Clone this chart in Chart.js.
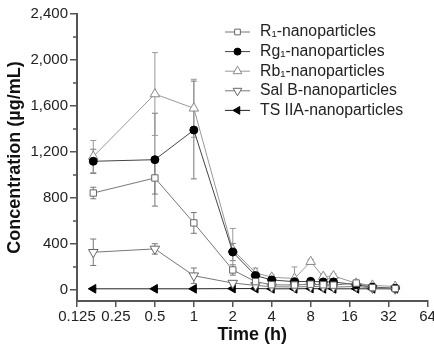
<!DOCTYPE html>
<html>
<head>
<meta charset="utf-8">
<script src="https://cdn.jsdelivr.net/npm/chart.js@4.4.0/dist/chart.umd.min.js"></script>
<style>
  html, body { margin: 0; padding: 0; background: #fff; }
  #wrap { width: 434px; height: 348px; }
</style>
</head>
<body>
<div id="wrap"><canvas id="pkChart" width="434" height="348"></canvas></div>
<script>
// time points (h) and tick values
const times = [0.167, 0.5, 1, 2, 3, 4, 6, 8, 10, 12, 18, 24, 36];
const xTicks = [0.125, 0.25, 0.5, 1, 2, 4, 8, 16, 32, 64];
const yTicks = [0, 400, 800, 1200, 1600, 2000, 2400];
const yMinorTicks = [200, 600, 1000, 1400, 1800, 2200];

// mean concentrations (µg/mL)
const r1Values   = [843, 974, 583, 174, 72, 45, 43, 50, 45, 42, 60, 20, 12];
const rg1Values  = [1119, 1133, 1391, 330, 125, 87, 72, 75, 70, 70, 45, 25, 15];
const rb1Values  = [1160, 1704, 1580, 350, 150, 110, 100, 246, 116, 122, 58, 40, 30];
const salbValues = [328, 357, 124, 60, 40, 28, 26, 30, 28, 25, 30, 18, 10];
const tsValues   = [10, 10, 10, 12, 12, 10, 10, 12, 10, 10, 10, 10, 10];

// standard deviations
const r1Err   = [50, 140, 90, 45, 15, 10, 10, 10, 10, 10, 12, 8, 5];
const rg1Err  = [105, 404, 425, 75, 20, 15, 15, 15, 15, 15, 10, 8, 5];
const rb1Err  = [140, 360, 252, 185, 40, 20, 100, 20, 20, 20, 10, 8, 5];
const salbErr = [115, 45, 67, 15, 8, 5, 5, 5, 5, 5, 5, 5, 3];
const tsErr   = [3, 3, 3, 3, 3, 3, 3, 3, 3, 3, 3, 3, 3];

const seriesNames = ['R\u2081-nanoparticles', 'Rg\u2081-nanoparticles', 'Rb\u2081-nanoparticles',
                     'Sal B-nanoparticles', 'TS IIA-nanoparticles'];

function toPoints(vals) {
    return vals.map((v, i) => ({ x: times[i], y: v }));
}

function makeSet(label, vals, errs, opts) {
    return Object.assign({
        label: label,
        data: toPoints(vals),
        errors: errs,
        borderWidth: 1,
        pointBorderWidth: 1,
        pointRadius: 4,
        tension: 0,
        fill: false
    }, opts);
}

const datasets = [
    makeSet(seriesNames[0], r1Values, r1Err, {
        borderColor: '#777', pointBorderColor: '#666', pointBackgroundColor: '#fff',
        pointStyle: 'rect', pointRadius: 4.5, errColor: '#777'
    }),
    makeSet(seriesNames[1], rg1Values, rg1Err, {
        borderColor: '#444', pointBorderColor: '#000', pointBackgroundColor: '#000',
        pointStyle: 'circle', pointRadius: 4, errColor: '#777'
    }),
    makeSet(seriesNames[2], rb1Values, rb1Err, {
        borderColor: '#999', pointBorderColor: '#888', pointBackgroundColor: '#fff',
        pointStyle: 'triangle', pointRadius: 5.5, errColor: '#999'
    }),
    makeSet(seriesNames[3], salbValues, salbErr, {
        borderColor: '#777', pointBorderColor: '#666', pointBackgroundColor: '#fff',
        pointStyle: 'triangle', pointRotation: 180, pointRadius: 5.5, errColor: '#777'
    }),
    makeSet(seriesNames[4], tsValues, tsErr, {
        borderColor: '#222', pointBorderColor: '#000', pointBackgroundColor: '#000',
        pointStyle: 'triangle', pointRotation: 270, pointRadius: 5, errColor: '#222'
    })
];

// error bars, drawn under the markers
const errorBars = {
    id: 'errorBars',
    beforeDatasetsDraw(chart) {
        const ctx = chart.ctx;
        const yScale = chart.scales.y;
        chart.data.datasets.forEach((ds, di) => {
            const meta = chart.getDatasetMeta(di);
            ctx.save();
            ctx.strokeStyle = ds.errColor;
            ctx.lineWidth = 1;
            meta.data.forEach((pt, i) => {
                const v = ds.data[i].y, e = ds.errors[i];
                const top = yScale.getPixelForValue(v + e);
                const bot = yScale.getPixelForValue(Math.max(v - e, yScale.min));
                ctx.beginPath();
                ctx.moveTo(pt.x, top); ctx.lineTo(pt.x, bot);
                ctx.moveTo(pt.x - 3, top); ctx.lineTo(pt.x + 3, top);
                ctx.moveTo(pt.x - 3, bot); ctx.lineTo(pt.x + 3, bot);
                ctx.stroke();
            });
            ctx.restore();
        });
    }
};

// short minor ticks on the y axis
const minorTicks = {
    id: 'minorTicks',
    afterDraw(chart) {
        const ctx = chart.ctx;
        const yScale = chart.scales.y;
        const left = chart.chartArea.left;
        ctx.save();
        ctx.strokeStyle = '#555';
        ctx.lineWidth = 1.5;
        yMinorTicks.forEach(v => {
            const y = Math.round(yScale.getPixelForValue(v));
            ctx.beginPath();
            ctx.moveTo(left - 4, y); ctx.lineTo(left, y);
            ctx.stroke();
        });
        ctx.restore();
    }
};

// legend: line sample + marker + text, no box
const lineLegend = {
    id: 'lineLegend',
    afterDraw(chart) {
        const ctx = chart.ctx;
        const x0 = 225, x1 = 250, tx = 260, y0 = 32, step = 19.6;
        ctx.save();
        ctx.font = '15.8px "Liberation Sans", Arial, sans-serif';
        ctx.textBaseline = 'middle';
        chart.data.datasets.forEach((ds, i) => {
            const y = y0 + i * step;
            ctx.strokeStyle = ds.borderColor;
            ctx.lineWidth = 1;
            ctx.beginPath();
            ctx.moveTo(x0, y); ctx.lineTo(x1, y);
            ctx.stroke();
            ctx.fillStyle = ds.pointBackgroundColor;
            ctx.strokeStyle = ds.pointBorderColor;
            Chart.helpers.drawPoint(ctx, {
                pointStyle: ds.pointStyle,
                rotation: ds.pointRotation || 0,
                radius: ds.pointRadius - 0.5,
                borderWidth: 1
            }, (x0 + x1) / 2, y);
            ctx.fillStyle = '#222';
            ctx.fillText(ds.label, tx, y);
        });
        ctx.restore();
    }
};

const ctx = document.getElementById('pkChart').getContext('2d');
new Chart(ctx, {
    type: 'line',
    data: { datasets: datasets },
    plugins: [errorBars, minorTicks, lineLegend],
    options: {
        responsive: false,
        animation: false,
        layout: { padding: { top: 14, right: 5, left: 0, bottom: 0 } },
        plugins: {
            legend: { display: false },
            tooltip: { enabled: false }
        },
        scales: {
            x: {
                type: 'logarithmic',
                min: 0.125,
                max: 64,
                afterBuildTicks: s => { s.ticks = xTicks.map(v => ({ value: v })); },
                afterFit: s => { s.height = 47; s.paddingLeft = 0; s.paddingRight = 0; },
                ticks: {
                    color: '#222',
                    padding: 1,
                    maxRotation: 0,
                    autoSkip: false,
                    font: { family: '"Liberation Sans", Arial, sans-serif', size: 15 },
                    callback: v => String(v)
                },
                grid: { drawOnChartArea: false, drawTicks: true, tickLength: 6, color: '#555', lineWidth: 1.5 },
                border: { display: true, color: '#555', width: 2 },
                title: {
                    display: true,
                    text: 'Time (h)',
                    color: '#111',
                    padding: { top: 0, bottom: 2 },
                    font: { family: '"Liberation Sans", Arial, sans-serif', size: 18, weight: 'bold' }
                }
            },
            y: {
                min: -96,
                max: 2400,
                afterBuildTicks: s => { s.ticks = yTicks.map(v => ({ value: v })); },
                afterFit: s => { s.width = 77; s.paddingTop = 0; s.paddingBottom = 0; },
                ticks: {
                    color: '#222',
                    padding: 2,
                    font: { family: '"Liberation Sans", Arial, sans-serif', size: 15 },
                    callback: v => v.toLocaleString('en-US')
                },
                grid: { drawOnChartArea: false, drawTicks: true, tickLength: 7, color: '#555', lineWidth: 1.5 },
                border: { display: true, color: '#555', width: 2 },
                title: {
                    display: true,
                    text: 'Concentration (\u00b5g/mL)',
                    color: '#111',
                    padding: { top: 4, bottom: 0 },
                    font: { family: '"Liberation Sans", Arial, sans-serif', size: 18, weight: 'bold' }
                }
            }
        }
    }
});
</script>
</body>
</html>
